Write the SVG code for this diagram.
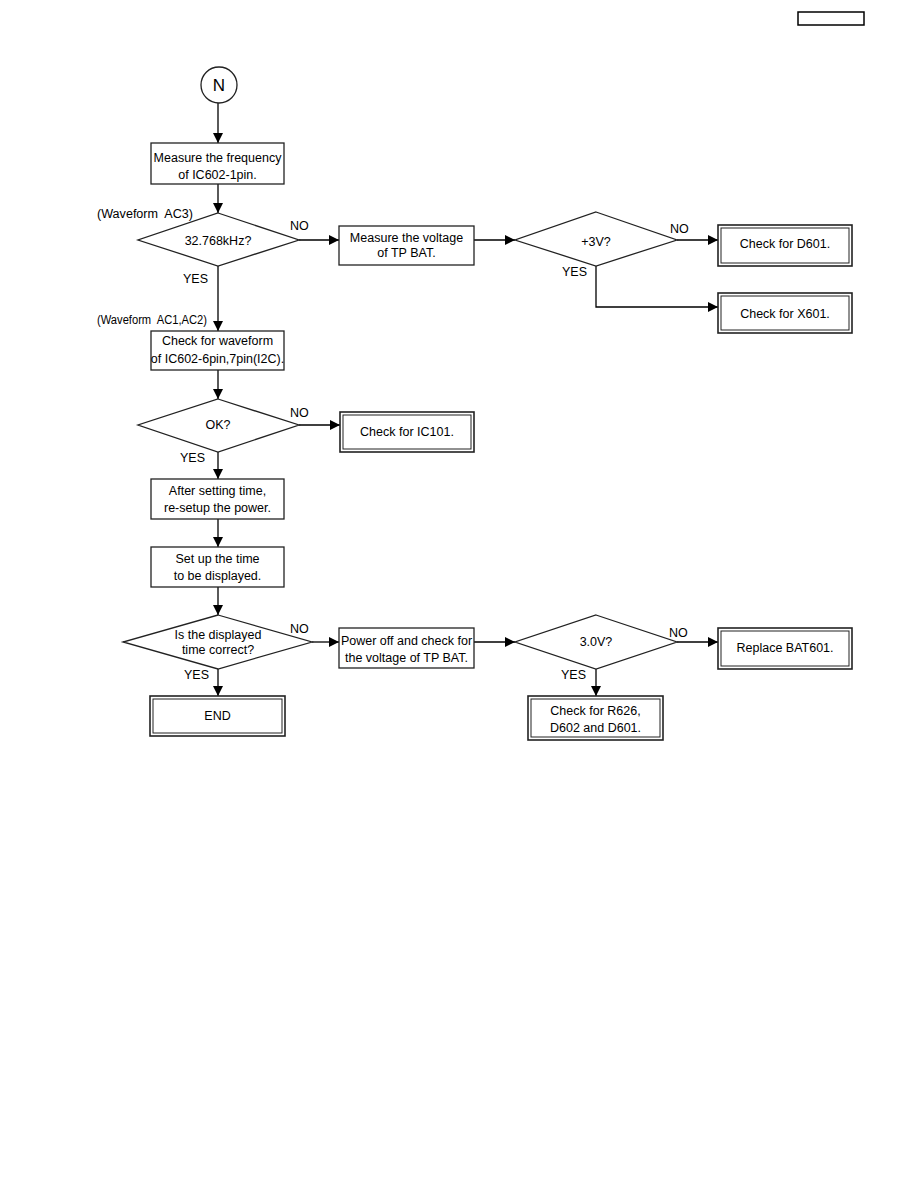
<svg xmlns="http://www.w3.org/2000/svg" width="918" height="1188" viewBox="0 0 918 1188">
<style>
text{font-family:"Liberation Sans",Arial,sans-serif;font-size:12.5px;fill:#000}
.c{text-anchor:middle}
.box{fill:#fff;stroke:#222;stroke-width:1.3}
.dbl{fill:none;stroke:#222;stroke-width:1.6}
.inn{fill:none;stroke:#222;stroke-width:1}
.dia{fill:#fff;stroke:#222;stroke-width:1.3}
.ln{fill:none;stroke:#000;stroke-width:1.3}
</style>
<defs>
<marker id="ah" markerUnits="userSpaceOnUse" markerWidth="11" markerHeight="11" refX="10" refY="5" orient="auto">
<path d="M0,0 L10,5 L0,10 z" fill="#000"/>
</marker>
</defs>
<rect x="798" y="12" width="66" height="13" fill="none" stroke="#000" stroke-width="1.5"/>
<g id="connectors">
<path class="ln" d="M218,103 V143" marker-end="url(#ah)"/>
<path class="ln" d="M218,184 V213" marker-end="url(#ah)"/>
<path class="ln" d="M218,266 V331" marker-end="url(#ah)"/>
<path class="ln" d="M299,240 H339" marker-end="url(#ah)"/>
<path class="ln" d="M474,240 H515" marker-end="url(#ah)"/>
<path class="ln" d="M677,240 H718" marker-end="url(#ah)"/>
<path class="ln" d="M596,266 V307 H718" marker-end="url(#ah)"/>
<path class="ln" d="M218,370 V399" marker-end="url(#ah)"/>
<path class="ln" d="M299,425 H340" marker-end="url(#ah)"/>
<path class="ln" d="M218,452 V479" marker-end="url(#ah)"/>
<path class="ln" d="M218,519 V547" marker-end="url(#ah)"/>
<path class="ln" d="M218,587 V615" marker-end="url(#ah)"/>
<path class="ln" d="M312,642 H339" marker-end="url(#ah)"/>
<path class="ln" d="M474,642 H515" marker-end="url(#ah)"/>
<path class="ln" d="M677,642 H718" marker-end="url(#ah)"/>
<path class="ln" d="M218,669 V696" marker-end="url(#ah)"/>
<path class="ln" d="M596,669 V696" marker-end="url(#ah)"/>
</g>
<g id="labels">
<text x="97" y="218" style="white-space:pre" textLength="96" lengthAdjust="spacingAndGlyphs">(Waveform  AC3)</text>
<text x="290" y="230">NO</text>
<text x="183" y="283">YES</text>
<text x="97" y="324" style="white-space:pre" textLength="110" lengthAdjust="spacingAndGlyphs">(Waveform  AC1,AC2)</text>
<text x="670" y="233">NO</text>
<text x="562" y="276">YES</text>
<text x="290" y="417">NO</text>
<text x="180" y="462">YES</text>
<text x="290" y="633">NO</text>
<text x="184" y="679">YES</text>
<text x="669" y="637">NO</text>
<text x="561" y="679">YES</text>
</g>
<g id="start">
<circle cx="219" cy="85" r="18" fill="#fff" stroke="#222" stroke-width="1.3"/>
<text class="c" x="219" y="91" style="font-size:17px">N</text>
</g>
<g id="measure-freq">
<rect class="box" x="151" y="143" width="133" height="41"/>
<text class="c" x="217.5" y="162">Measure the frequency</text>
<text class="c" x="217.5" y="179">of IC602-1pin.</text>
</g>
<g id="dec-freq">
<polygon class="dia" points="218,213 299,240 218,266 138,240"/>
<text class="c" x="218" y="245">32.768kHz?</text>
</g>
<g id="measure-volt">
<rect class="box" x="339" y="226" width="135" height="39"/>
<text class="c" x="406.5" y="242">Measure the voltage</text>
<text class="c" x="406.5" y="257">of TP BAT.</text>
</g>
<g id="dec-3v">
<polygon class="dia" points="596,212 677,240 596,266 515,240"/>
<text class="c" x="596" y="246">+3V?</text>
</g>
<g id="check-d601">
<rect class="dbl" x="718" y="225" width="134" height="41"/>
<rect class="inn" x="721" y="228" width="128" height="35"/>
<text class="c" x="785" y="248">Check for D601.</text>
</g>
<g id="check-x601">
<rect class="dbl" x="718" y="293" width="134" height="40"/>
<rect class="inn" x="721" y="296" width="128" height="34"/>
<text class="c" x="785" y="318">Check for X601.</text>
</g>
<g id="check-waveform">
<rect class="box" x="151" y="331" width="133" height="39"/>
<text class="c" x="217.5" y="345">Check for waveform</text>
<text class="c" x="217.5" y="363">of IC602-6pin,7pin(I2C).</text>
</g>
<g id="dec-ok">
<polygon class="dia" points="218,399 299,425 218,452 138,425"/>
<text class="c" x="218" y="429">OK?</text>
</g>
<g id="check-ic101">
<rect class="dbl" x="340" y="412" width="134" height="40"/>
<rect class="inn" x="343" y="415" width="128" height="34"/>
<text class="c" x="407" y="436">Check for IC101.</text>
</g>
<g id="after-setting">
<rect class="box" x="151" y="479" width="133" height="40"/>
<text class="c" x="217.5" y="495">After setting time,</text>
<text class="c" x="217.5" y="512">re-setup the power.</text>
</g>
<g id="set-time">
<rect class="box" x="151" y="547" width="133" height="40"/>
<text class="c" x="217.5" y="563">Set up the time</text>
<text class="c" x="217.5" y="580">to be displayed.</text>
</g>
<g id="dec-time">
<polygon class="dia" points="218,615 312,642 218,669 123,642"/>
<text class="c" x="218" y="639">Is the displayed</text>
<text class="c" x="218" y="654">time correct?</text>
</g>
<g id="power-off">
<rect class="box" x="339" y="628" width="135" height="40"/>
<text class="c" x="406.5" y="645">Power off and check for</text>
<text class="c" x="406.5" y="662">the voltage of TP BAT.</text>
</g>
<g id="dec-30v">
<polygon class="dia" points="596,615 677,642 596,669 515,642"/>
<text class="c" x="596" y="646">3.0V?</text>
</g>
<g id="replace-bat">
<rect class="dbl" x="718" y="628" width="134" height="41"/>
<rect class="inn" x="721" y="631" width="128" height="35"/>
<text class="c" x="785" y="652">Replace BAT601.</text>
</g>
<g id="end">
<rect class="dbl" x="150" y="696" width="135" height="40"/>
<rect class="inn" x="153" y="699" width="129" height="34"/>
<text class="c" x="217.5" y="720">END</text>
</g>
<g id="check-r626">
<rect class="dbl" x="528" y="696" width="135" height="44"/>
<rect class="inn" x="531" y="699" width="129" height="38"/>
<text class="c" x="595.5" y="715">Check for R626,</text>
<text class="c" x="595.5" y="732">D602 and D601.</text>
</g>
</svg>
